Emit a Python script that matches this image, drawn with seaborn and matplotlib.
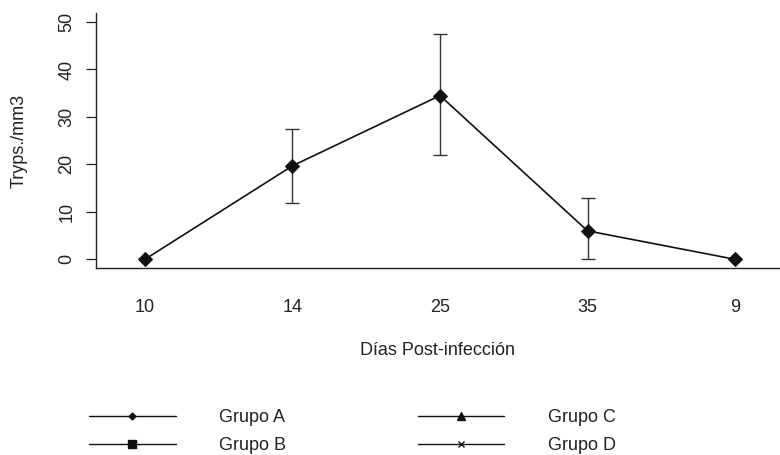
import matplotlib
matplotlib.use("Agg")
import matplotlib.pyplot as plt
from matplotlib.lines import Line2D
import seaborn as sns
import pandas as pd
import numpy as np

# ---- data ----
days = ["10", "14", "25", "35", "9"]
tryps = [0.0, 19.7, 34.5, 6.0, 0.0]
err_low = [0.0, 11.8, 21.9, 0.0, 0.0]
err_high = [0.0, 27.4, 47.4, 13.0, 0.0]
has_err = [False, True, True, True, False]
y_ticks = [0, 10, 20, 30, 40, 50]
groups = ["Grupo A", "Grupo B", "Grupo C", "Grupo D"]
group_markers = ["D", "s", "^", "x"]
group_msizes = [3.5, 6, 6, 5]

FS = 13

sns.set_theme(style="ticks")
plt.rcParams["font.family"] = ["Liberation Sans", "DejaVu Sans"]
plt.rcParams["font.size"] = FS

df = pd.DataFrame({"pos": np.arange(len(days)), "day": days, "val": tryps})

fig = plt.figure(figsize=(7.8, 4.55), dpi=100)
ax = fig.add_axes([96 / 780, 1 - 268 / 455, 1 - 96 / 780, (268 - 13) / 455])

sns.lineplot(data=df, x="pos", y="val", ax=ax, color="#111111", lw=1.2,
             marker="D", markersize=7.5, markeredgecolor="#111111",
             markerfacecolor="#111111", legend=False, zorder=3)

lo = np.array(tryps) - np.array(err_low)
hi = np.array(err_high) - np.array(tryps)
mask = np.array(has_err)
ax.errorbar(df["pos"][mask], np.array(tryps)[mask],
            yerr=[lo[mask], hi[mask]], fmt="none", ecolor="#333333",
            elinewidth=1.0, capsize=5, capthick=1.0, zorder=2)

ax.set_xlim(-0.332, 4.305)
ax.set_ylim(-1.83, 51.9)
ax.set_xticks(df["pos"])
ax.set_xticklabels(days, fontsize=FS, color="#222222")
ax.tick_params(axis="x", length=0, pad=22)
ax.set_yticks(y_ticks)
ax.set_yticklabels([str(t) for t in y_ticks], rotation=90, va="center",
                   fontsize=FS, color="#222222")
ax.tick_params(axis="y", length=7, width=0.9, pad=8, color="#222222")
ax.set_xlabel("Días Post-infección", fontsize=FS, color="#222222")
ax.xaxis.set_label_coords(0.5, -0.29)
ax.set_ylabel("Tryps./mm3", fontsize=FS, color="#222222")
ax.yaxis.set_label_coords(-0.1, 0.5)

sns.despine(ax=ax)
for s in ["left", "bottom"]:
    ax.spines[s].set_linewidth(1.0)
    ax.spines[s].set_color("#222222")

handles = [Line2D([], [], color="#111111", lw=1.0, marker=m, markersize=ms,
                  markerfacecolor="#111111", markeredgecolor="#111111",
                  markeredgewidth=1.0)
           for m, ms in zip(group_markers, group_msizes)]
fig.legend(handles, groups, loc="upper left",
           bbox_to_anchor=(89 / 780, 1 - 409 / 455), ncol=2, frameon=False,
           handlelength=4.8, handletextpad=2.4, columnspacing=7.3,
           labelspacing=0.62, borderpad=0, borderaxespad=0, fontsize=FS,
           labelcolor="#222222")

fig.savefig("out.png", dpi=100)
